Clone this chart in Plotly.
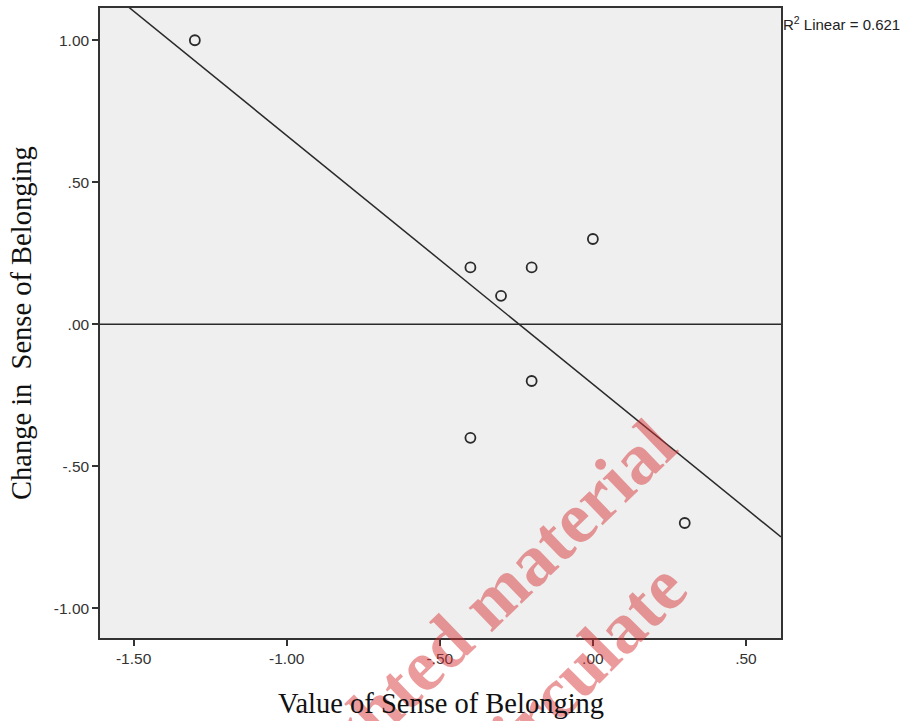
import numpy as np
import plotly.graph_objects as go

# Data
value_sense = [-1.3, -0.4, -0.2, 0.0, -0.3, -0.2, -0.4, 0.3]
change_sense = [1.0, 0.2, 0.2, 0.3, 0.1, -0.2, -0.4, -0.7]

x_tick_vals = [-1.5, -1.0, -0.5, 0.0, 0.5]
x_tick_text = ["-1.50", "-1.00", "-.50", ".00", ".50"]
y_tick_vals = [1.0, 0.5, 0.0, -0.5, -1.0]
y_tick_text = ["1.00", ".50", ".00", "-.50", "-1.00"]

x_range = [-1.6098, 0.6144]
y_range = [-1.105, 1.1135]

# Linear fit
xs = np.array(value_sense)
ys = np.array(change_sense)
slope, intercept = np.polyfit(xs, ys, 1)
r2 = np.corrcoef(xs, ys)[0, 1] ** 2
line_x = np.array(x_range)
line_y = slope * line_x + intercept

W, H = 906, 721
ml, mr, mt, mb = 100, 125, 6, 83

fig = go.Figure()
fig.add_trace(go.Scatter(
    x=line_x, y=line_y, mode="lines",
    line=dict(color="#2a2a2a", width=1.5), hoverinfo="skip", showlegend=False))
fig.add_trace(go.Scatter(
    x=value_sense, y=change_sense, mode="markers",
    marker=dict(symbol="circle-open", size=10, color="#2a2a2a", line=dict(width=1.8)),
    showlegend=False))
fig.add_hline(y=0, line=dict(color="#2a2a2a", width=1.5))

tickfont = dict(family="Liberation Sans, Arial", size=15.5, color="#333333")
fig.update_xaxes(range=x_range, tickvals=x_tick_vals, ticktext=x_tick_text,
                 showgrid=False, zeroline=False, showline=True, mirror=True,
                 linecolor="#333333", linewidth=1.5, ticks="outside", ticklen=6,
                 tickwidth=1.5, tickcolor="#333333", tickfont=tickfont)
fig.update_yaxes(range=y_range, tickvals=y_tick_vals, ticktext=y_tick_text,
                 showgrid=False, zeroline=False, showline=True, mirror=True,
                 linecolor="#333333", linewidth=1.5, ticks="outside", ticklen=6,
                 tickwidth=1.5, tickcolor="#333333", tickfont=tickfont)

title_font = dict(family="Liberation Serif, Times New Roman", size=28.5, color="#111111")
wm_font = dict(family="Liberation Serif, Times New Roman", size=73, color="rgba(215,45,50,0.48)")

def px_to_paper(px, py):
    return (px - ml) / (W - ml - mr), 1 - (py - mt) / (H - mt - mb)

annotations = []
wx, wy = px_to_paper(420, 668)
annotations.append(dict(text="<b>Copyrighted material</b>", xref="paper", yref="paper",
                        x=wx, y=wy, xanchor="center", yanchor="middle", textangle=-44,
                        showarrow=False, font=wm_font))
wx2, wy2 = px_to_paper(497, 752)
annotations.append(dict(text="<b>Do not circulate</b>", xref="paper", yref="paper",
                        x=wx2, y=wy2, xanchor="center", yanchor="middle", textangle=-45,
                        showarrow=False, font=wm_font))
annotations.append(dict(text="Value of Sense of Belonging", xref="paper", yref="paper",
                        x=0.5, y=0, xanchor="center", yanchor="middle", yshift=-65,
                        showarrow=False, font=title_font))
annotations.append(dict(text="Change in&nbsp; Sense of Belonging", xref="paper", yref="paper",
                        x=0, y=0.5, xanchor="center", yanchor="middle", xshift=-79,
                        textangle=-90, showarrow=False, font=title_font))
annotations.append(dict(text="R<sup>2</sup> Linear = %.3f" % r2, xref="paper", yref="paper",
                        x=1, y=1, xanchor="left", yanchor="middle", xshift=0, yshift=-15,
                        showarrow=False,
                        font=dict(family="Liberation Sans, Arial", size=15, color="#222222")))

fig.update_layout(width=W, height=H, margin=dict(l=ml, r=mr, t=mt, b=mb),
                  plot_bgcolor="#efefef", paper_bgcolor="white",
                  annotations=annotations)

fig.write_html("out.html", config={"displayModeBar": False},
               post_script="document.body.style.margin='0';document.body.style.padding='0';")
